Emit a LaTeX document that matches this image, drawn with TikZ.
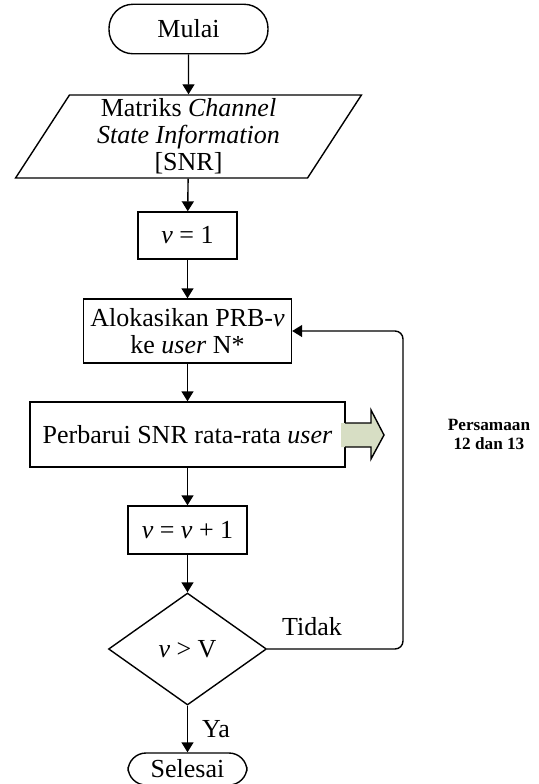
\documentclass[tikz,border=0pt]{standalone}
\usepackage{fontspec}
\setmainfont{Liberation Serif}
\usetikzlibrary{shapes.geometric,arrows.meta}

\begin{document}
\begin{tikzpicture}[x=0.5pt,y=-0.5pt,line width=0.7pt,
  every node/.style={font=\fontsize{13}{13.5}\selectfont},
  term/.style={draw,rectangle,rounded corners=12pt,inner sep=1pt},
  proc/.style={draw,rectangle,align=center,inner sep=2pt},
  io/.style={draw,trapezium,trapezium left angle=62,trapezium right angle=118,trapezium stretches=true,align=center,inner sep=1pt},
  dec/.style={draw,diamond,inner sep=0pt},
  arr/.style={-{Triangle[length=5pt,width=6pt]}},
  lbl/.style={inner sep=1pt}]
\useasboundingbox (0,0) rectangle (539,784);

% start and input
\node [term,minimum width=79.5pt,minimum height=24.75pt] (mulai) at (188.5,29) {Mulai};
\node [io,minimum width=173pt,minimum height=41.5pt] (csi) at (188.5,136.5) {\rule{0pt}{9pt}Matriks \textit{Channel}\\\textit{State Information}\\{[SNR]}};

% loop body
\node [proc,minimum width=49.5pt,minimum height=23.5pt] (v1) at (187.5,235.5) {\textit{v}~=~1};
\node [proc,minimum width=104pt,minimum height=32pt] (alok) at (187.5,331) {Alokasikan PRB-\textit{v}\\ke \textit{user} N*};
\node [proc,minimum width=157.5pt,minimum height=32.5pt] (perb) at (187.5,434.5) {Perbarui SNR rata-rata \textit{user}};
\node [proc,minimum width=59.5pt,minimum height=24pt] (inc) at (187.5,530) {\textit{v}~=~\textit{v}~+~1};
\node [dec,minimum width=79pt,minimum height=56pt] (cek) at (187.5,649) {\textit{v}~>~V};
\node [term,rounded corners=9pt,minimum width=59.5pt,minimum height=16pt] (selesai) at (187.5,769) {Selesai};

% block arrow to the equations
\fill [fill={rgb,255:red,215;green,222;blue,196}] (341,423) -- (371,423) -- (371,410) -- (384,435) -- (371,459) -- (371,447) -- (341,447) -- cycle;
\draw (345,423) -- (371,423) -- (371,410) -- (384,435) -- (371,459) -- (371,447) -- (345,447);
\node [lbl,align=center,font=\fontsize{8.6}{9.5}\selectfont\bfseries] (eq) at (489,434) {Persamaan\\12 dan 13};

\draw [arr] (mulai) -- (csi);
\draw [arr] (csi) -- (v1);
\draw [arr] (v1) -- (alok);
\draw [arr] (alok) -- (perb);
\draw [arr] (perb) -- (inc);
\draw [arr] (inc) -- (cek);
\draw [arr] (cek) -- node [lbl,right=6pt,pos=0.5] (ya) {Ya} (selesai);
\coordinate (back) at (403,331);
\draw [arr,rounded corners=4pt] (cek.east) -| (back) -- (alok.east);
\node [lbl] (tidak) at (312,627) {Tidak};
\end{tikzpicture}
\end{document}
